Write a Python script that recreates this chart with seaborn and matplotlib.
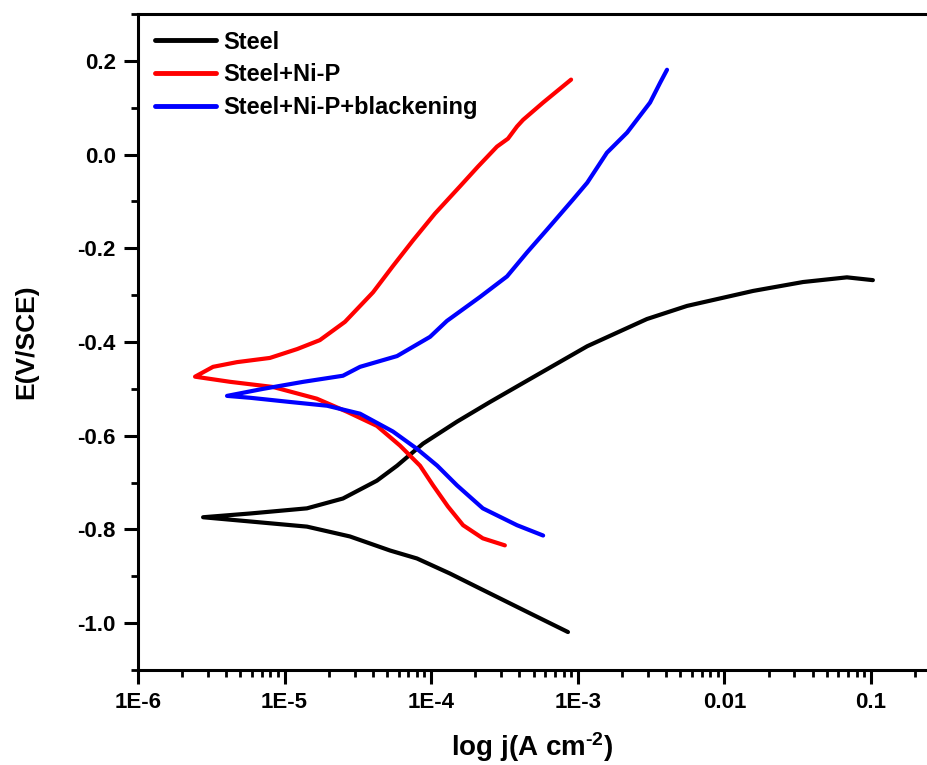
import numpy as np
import pandas as pd
import matplotlib
matplotlib.use("Agg")
import matplotlib.pyplot as plt
import seaborn as sns
from matplotlib.ticker import FixedLocator, LogLocator, NullFormatter, MultipleLocator

# ---------------- data ----------------
series_names = ["Steel", "Steel+Ni-P", "Steel+Ni-P+blackening"]
series_colors = ["#000000", "#FF0000", "#0000FF"]

steel_j = [8.57e-4, 4.72e-4, 2.15e-4, 1.34e-4, 8.0e-5, 5.24e-5, 2.79e-5, 1.42e-5, 5.81e-6,
           2.78e-6, 5.81e-6, 1.42e-5, 2.50e-5, 4.26e-5, 5.85e-5, 8.79e-5, 1.50e-4, 2.52e-4,
           4.72e-4, 1.16e-3, 2.96e-3, 5.56e-3, 1.57e-2, 3.44e-2, 6.85e-2, 0.103]
steel_E = [-1.019, -0.979, -0.926, -0.894, -0.862, -0.845, -0.815, -0.794, -0.783,
           -0.774, -0.766, -0.755, -0.734, -0.696, -0.664, -0.617, -0.570, -0.528,
           -0.479, -0.409, -0.351, -0.323, -0.291, -0.272, -0.262, -0.268]

nip_j = [3.18e-4, 2.25e-4, 1.65e-4, 1.30e-4, 1.03e-4, 8.39e-5, 6.12e-5, 4.26e-5, 2.67e-5,
         1.66e-5, 8.34e-6, 4.25e-6, 2.45e-6, 3.25e-6, 4.73e-6, 7.94e-6, 1.22e-5, 1.74e-5,
         2.58e-5, 4.01e-5, 5.48e-5, 7.52e-5, 1.06e-4, 1.57e-4, 2.08e-4, 2.81e-4, 3.34e-4,
         3.85e-4, 4.23e-4, 5.80e-4, 9.0e-4]
nip_E = [-0.834, -0.819, -0.791, -0.751, -0.706, -0.664, -0.621, -0.579, -0.549,
         -0.521, -0.496, -0.485, -0.474, -0.453, -0.443, -0.434, -0.415, -0.396,
         -0.357, -0.294, -0.238, -0.183, -0.126, -0.068, -0.026, 0.017, 0.034,
         0.060, 0.074, 0.111, 0.160]

blk_j = [5.80e-4, 3.85e-4, 2.25e-4, 1.50e-4, 1.10e-4, 8.0e-5, 5.48e-5, 3.27e-5, 1.95e-5,
         1.09e-5, 5.81e-6, 4.05e-6, 7.13e-6, 1.34e-5, 2.50e-5, 3.27e-5, 5.85e-5, 9.82e-5,
         1.28e-4, 2.15e-4, 3.29e-4, 4.50e-4, 6.17e-4, 9.27e-4, 1.16e-3, 1.58e-3, 2.17e-3,
         3.11e-3, 3.64e-3, 4.06e-3]
blk_E = [-0.813, -0.791, -0.755, -0.706, -0.664, -0.628, -0.591, -0.553, -0.536,
         -0.528, -0.519, -0.515, -0.500, -0.485, -0.472, -0.453, -0.430, -0.389,
         -0.355, -0.304, -0.260, -0.209, -0.160, -0.096, -0.060, 0.004, 0.047,
         0.111, 0.153, 0.181]

x_tick_values = [1e-6, 1e-5, 1e-4, 1e-3, 1e-2, 1e-1]
x_tick_labels = ["1E-6", "1E-5", "1E-4", "1E-3", "0.01", "0.1"]
y_tick_values = [0.2, 0.0, -0.2, -0.4, -0.6, -0.8, -1.0]
y_tick_labels = ["0.2", "0.0", "-0.2", "-0.4", "-0.6", "-0.8", "-1.0"]

x_label = "log j(A cm$^{\\text{-2}}$)"
y_label = "E(V/SCE)"

# ---------------- build table ----------------
frames = []
for name, j, E in [(series_names[0], steel_j, steel_E),
                   (series_names[1], nip_j, nip_E),
                   (series_names[2], blk_j, blk_E)]:
    frames.append(pd.DataFrame({"series": name, "j": j, "E": E,
                                "order": np.arange(len(j))}))
df = pd.concat(frames, ignore_index=True)

# ---------------- style ----------------
sns.set_style("ticks")
plt.rcParams["font.family"] = ["Liberation Sans", "DejaVu Sans"]
plt.rcParams["font.weight"] = "bold"
plt.rcParams["mathtext.fontset"] = "custom"
plt.rcParams["mathtext.rm"] = "Liberation Sans:bold"
plt.rcParams["mathtext.bf"] = "Liberation Sans:bold"
plt.rcParams["mathtext.it"] = "Liberation Sans:bold"
plt.rcParams["mathtext.default"] = "bf"
plt.rcParams["axes.unicode_minus"] = False
for k in ["text.color", "axes.labelcolor", "xtick.color", "ytick.color", "axes.edgecolor"]:
    plt.rcParams[k] = "black"

fig = plt.figure(figsize=(9.27, 7.65), dpi=100)
ax = fig.add_axes([138 / 927, 1 - 670 / 765, 1 - 138 / 927, (670 - 14) / 765])

sns.lineplot(data=df, x="j", y="E", hue="series", hue_order=series_names,
             palette=series_colors, sort=False, estimator=None, units="series",
             linewidth=3.0, ax=ax, legend=False)
for ln in ax.get_lines():
    ln.set_solid_joinstyle("round")
    ln.set_solid_capstyle("round")

ax.set_xscale("log")
ax.set_xlim(1e-6, 10 ** ((927 - 138) / 146.6 - 6))
ax.set_ylim(-1.1, 0.3)

ax.xaxis.set_major_locator(FixedLocator(x_tick_values))
ax.set_xticklabels(x_tick_labels)
ax.xaxis.set_minor_locator(LogLocator(base=10, subs=np.arange(2, 10)))
ax.xaxis.set_minor_formatter(NullFormatter())
ax.yaxis.set_major_locator(FixedLocator(y_tick_values))
ax.set_yticklabels(y_tick_labels)
ax.yaxis.set_minor_locator(MultipleLocator(0.1))

for s in ["left", "bottom", "top"]:
    ax.spines[s].set_linewidth(2.2)
    ax.spines[s].set_color("black")
ax.spines["right"].set_visible(False)

ax.tick_params(axis="both", which="major", direction="out", length=10, width=2.2,
               labelsize=16, pad=6, colors="black", labelcolor="black")
ax.tick_params(axis="both", which="minor", direction="out", length=5, width=2.0,
               colors="black")
ax.tick_params(top=False, right=False, which="both")
for lab in ax.get_xticklabels() + ax.get_yticklabels():
    lab.set_fontweight("bold")
    lab.set_color("black")

ax.set_xlabel(x_label, fontsize=20, fontweight="bold", labelpad=12, color="black")
ax.set_ylabel(y_label, fontsize=19, fontweight="bold", labelpad=28, color="black")

handles = [plt.Line2D([], [], color=c, lw=3.5) for c in series_colors]
leg = ax.legend(handles, series_names, loc="upper left", frameon=False,
                fontsize=17, handlelength=2.6, handletextpad=0.3,
                labelspacing=0.42, borderaxespad=0.1, borderpad=0.6,
                bbox_to_anchor=(0.0, 1.0))
for t in leg.get_texts():
    t.set_fontweight("bold")
    t.set_color("black")

fig.savefig("out.png", dpi=100, facecolor="white")
